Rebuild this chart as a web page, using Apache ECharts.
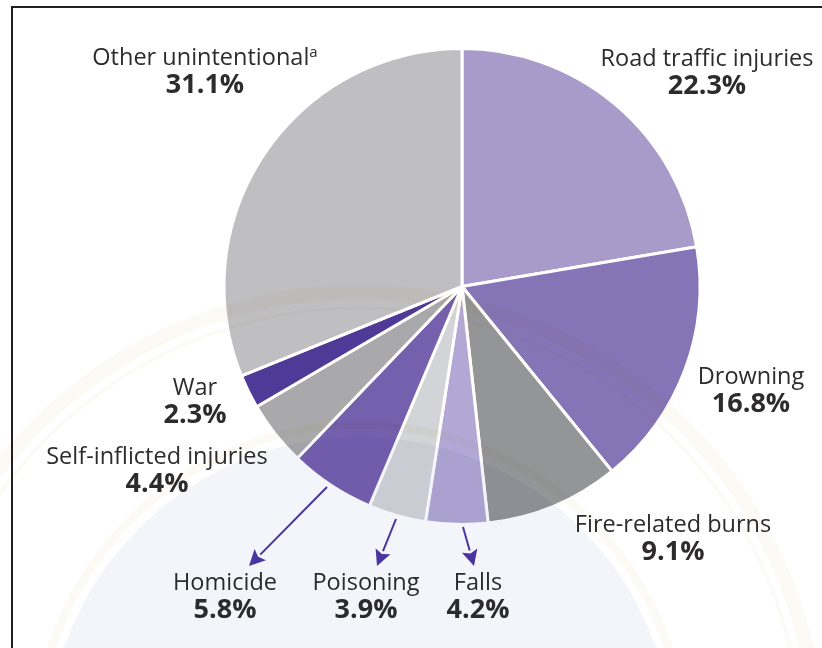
<!DOCTYPE html>
<html>
<head>
<meta charset="utf-8">
<title>Injury deaths by cause</title>
<script src="https://cdn.jsdelivr.net/npm/echarts@6/dist/echarts.min.js"></script>
<style>
  html, body { margin: 0; padding: 0; background: #fff; }
  #chart { width: 822px; height: 648px; }
</style>
</head>
<body>
<div id="chart"></div>
<script>
  // clockwise from 12 o'clock
  var causes = ['Road traffic injuries', 'Drowning', 'Fire-related burns', 'Falls', 'Poisoning', 'Homicide', 'Self-inflicted injuries', 'War', 'Other unintentional'];
  var shares = [22.3, 16.8, 9.1, 4.2, 3.9, 5.8, 4.4, 2.3, 31.1];
  var sliceColors = ['#a89bc9', '#8675b6', '#949597', '#b3a8d5', '#d3d4d7', '#7560ae', '#a9a9ab', '#4f3a97', '#bfbfc1'];
  var footnoted = ['Other unintentional'];

  // label block centres, px
  var labelPos = [[707, 73], [751, 391], [673, 539], [478, 597], [366, 597], [225, 597], [157, 471], [195, 402], [205, 72]];

  // leader arrows [x1, y1, x2, y2]
  var arrows = [[327, 487, 249, 566], [396, 519, 377, 566], [463, 527, 474, 566]];

  var chart = echarts.init(document.getElementById('chart'));

  function arrowParts(a) {
    var dx = a[2] - a[0], dy = a[3] - a[1];
    var len = Math.sqrt(dx * dx + dy * dy);
    var ux = dx / len, uy = dy / len;
    var bx = a[2] - ux * 16, by = a[3] - uy * 16;
    return [
      {
        type: 'line', z: 20,
        shape: { x1: a[0], y1: a[1], x2: bx, y2: by },
        style: { stroke: '#4a35a0', lineWidth: 2 }
      },
      {
        type: 'polygon', z: 20,
        shape: { points: [[a[2], a[3]], [bx - uy * 8, by + ux * 8], [bx + ux * 3, by + uy * 3], [bx + uy * 8, by - ux * 8]] },
        style: { fill: '#4a35a0' }
      }
    ];
  }

  // faint seal behind the page, multiplied so it also tints the slices
  function sealRing(r, width, color) {
    return {
      type: 'circle', z: 10, silent: true,
      shape: { cx: 360, cy: 750, r: r },
      style: { fill: null, stroke: color, lineWidth: width, blend: 'multiply' }
    };
  }

  var graphics = [
    {
      type: 'circle', z: 10, silent: true,
      shape: { cx: 360, cy: 750, r: 313 },
      style: { fill: '#f4f5fb', blend: 'multiply' }
    },
    sealRing(325, 8, '#fbfaf4'),
    sealRing(458, 14, '#fbfaf5'),
    sealRing(442, 3, '#fbfaf5'),
    {
      type: 'polyline', z: 30,
      shape: { points: [[12, 648], [12, 7], [822, 7]] },
      style: { stroke: '#231f20', lineWidth: 2, fill: null }
    }
  ];
  arrows.forEach(function (a) {
    graphics = graphics.concat(arrowParts(a));
  });

  var option = {
    animation: false,
    backgroundColor: '#fff',
    textStyle: { fontFamily: '"Open Sans", sans-serif' },
    graphic: graphics,
    series: [
      {
        type: 'pie',
        center: [462, 286.5],
        radius: [0, 238],
        startAngle: 90,
        clockwise: true,
        silent: true,
        avoidLabelOverlap: false,
        data: causes.map(function (name, i) {
          return { name: name, value: shares[i], itemStyle: { color: sliceColors[i] } };
        }),
        itemStyle: { borderColor: '#fff', borderWidth: 3 },
        label: {
          show: true,
          position: 'outside',
          align: 'center',
          verticalAlign: 'middle',
          formatter: function (p) {
            var sup = footnoted.indexOf(p.name) >= 0 ? '{sup|a}' : '';
            return '{name|' + p.name + '}' + sup + '\n{val|' + p.value.toFixed(1) + '%}';
          },
          rich: {
            name: { fontFamily: '"Open Sans", sans-serif', fontSize: 23.5, color: '#2d2b2c', lineHeight: 27 },
            sup: { fontFamily: '"Open Sans", sans-serif', fontSize: 15, color: '#2d2b2c', lineHeight: 27, verticalAlign: 'top' },
            val: { fontFamily: '"Open Sans", sans-serif', fontSize: 27, fontWeight: 'bold', color: '#2d2b2c', lineHeight: 27 }
          }
        },
        labelLine: { show: false },
        labelLayout: function (p) {
          return { x: labelPos[p.dataIndex][0], y: labelPos[p.dataIndex][1], align: 'center', verticalAlign: 'middle' };
        }
      }
    ]
  };
  chart.setOption(option);
</script>
</body>
</html>
